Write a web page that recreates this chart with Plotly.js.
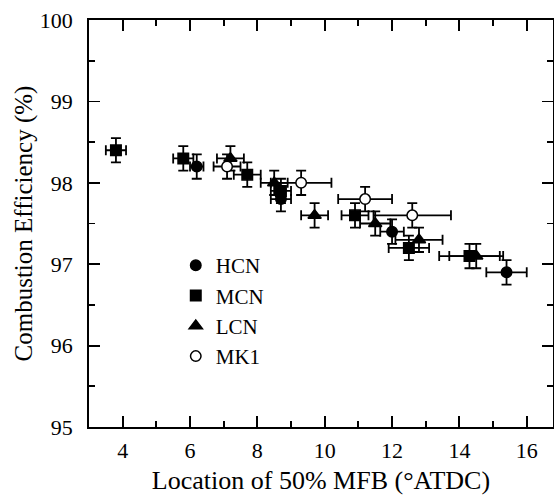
<!DOCTYPE html>
<html>
<head>
<meta charset="utf-8">
<script src="https://cdn.plot.ly/plotly-3.0.1.min.js"></script>
<style>html,body{margin:0;padding:0;background:#fff;}#chart{width:554px;height:500px;}</style>
</head>
<body>
<div id="chart"></div>
<script>
// HCN
const hcnX = [6.2, 8.7, 12.0, 15.4];
const hcnY = [98.2, 97.8, 97.4, 96.9];
const hcnXErr = [0.2, 0.3, 0.35, 0.6];
const hcnYErr = [0.15, 0.15, 0.15, 0.15];
// MCN
const mcnX = [3.8, 5.8, 7.7, 8.7, 10.9, 12.5, 14.3];
const mcnY = [98.4, 98.3, 98.1, 97.9, 97.6, 97.2, 97.1];
const mcnXErr = [0.3, 0.3, 0.4, 0.3, 0.4, 0.6, 0.9];
const mcnYErr = [0.15, 0.15, 0.15, 0.15, 0.15, 0.15, 0.15];
// LCN
const lcnX = [7.2, 8.5, 9.7, 11.5, 12.8, 14.5];
const lcnY = [98.3, 98.0, 97.6, 97.5, 97.3, 97.1];
const lcnXErr = [0.4, 0.4, 0.4, 0.45, 0.7, 0.8];
const lcnYErr = [0.15, 0.15, 0.15, 0.15, 0.15, 0.15];
// MK1
const mk1X = [7.1, 9.3, 11.2, 12.6];
const mk1Y = [98.2, 98.0, 97.8, 97.6];
const mk1XErr = [0.4, 0.9, 0.8, 1.15];
const mk1YErr = [0.15, 0.15, 0.15, 0.15];

const seriesNames = ['HCN', 'MCN', 'LCN', 'MK1'];

function errCfg(arr){
  return {type:'data', array:arr, visible:true, color:'#000', thickness:1.8, width:5};
}
function mk(name, x, y, xe, ye, symbol, size, fill){
  return {
    type:'scatter', mode:'markers', name:name, x:x, y:y,
    error_x: errCfg(xe), error_y: errCfg(ye),
    marker:{symbol:symbol, size:size, color:fill, line:{color:'#000', width:1.5}}
  };
}
const data = [
  mk(seriesNames[0], hcnX, hcnY, hcnXErr, hcnYErr, 'circle', 10.5, '#000'),
  mk(seriesNames[1], mcnX, mcnY, mcnXErr, mcnYErr, 'square', 10.5, '#000'),
  mk(seriesNames[2], lcnX, lcnY, lcnXErr, lcnYErr, 'triangle-up', 11.5, '#000'),
  mk(seriesNames[3], mk1X, mk1Y, mk1XErr, mk1YErr, 'circle', 10.5, '#fff')
];

const fontFam = 'Liberation Serif, Times New Roman, serif';
const axisCommon = {
  showgrid:false, zeroline:false, showline:true, linecolor:'#000', linewidth:1.8,
  mirror:'ticks', ticks:'inside', ticklen:11, tickwidth:1.8, tickcolor:'#000',
  tickfont:{family:fontFam, size:22, color:'#000'}
};
const layout = {
  width:554, height:500,
  margin:{l:89, r:1, t:20, b:73},
  paper_bgcolor:'#fff', plot_bgcolor:'#fff',
  font:{family:fontFam, color:'#000'},
  showlegend:true,
  legend:{x:0.187, y:0.447, xanchor:'left', yanchor:'top', bgcolor:'rgba(0,0,0,0)',
          font:{family:fontFam, size:21, color:'#000'}},
  xaxis:Object.assign({}, axisCommon, {
    range:[3, 16.78], tickmode:'linear', tick0:4, dtick:2, ticklabelstandoff:3,
    minor:{dtick:1, tick0:3, ticks:'inside', ticklen:6, tickwidth:1.8, tickcolor:'#000'},
    title:{text:'Location of 50% MFB (°ATDC)', font:{family:fontFam, size:26, color:'#000'}, standoff:8}
  }),
  yaxis:Object.assign({}, axisCommon, {
    range:[95, 100], tickmode:'linear', tick0:95, dtick:1, ticklabelstandoff:10,
    minor:{dtick:0.5, ticks:'inside', ticklen:6, tickwidth:1.8, tickcolor:'#000'},
    title:{text:'Combustion Efficiency (%)', font:{family:fontFam, size:25, color:'#000'}, standoff:0}
  })
};
Plotly.newPlot('chart', data, layout, {staticPlot:true, displayModeBar:false});
</script>
</body>
</html>
